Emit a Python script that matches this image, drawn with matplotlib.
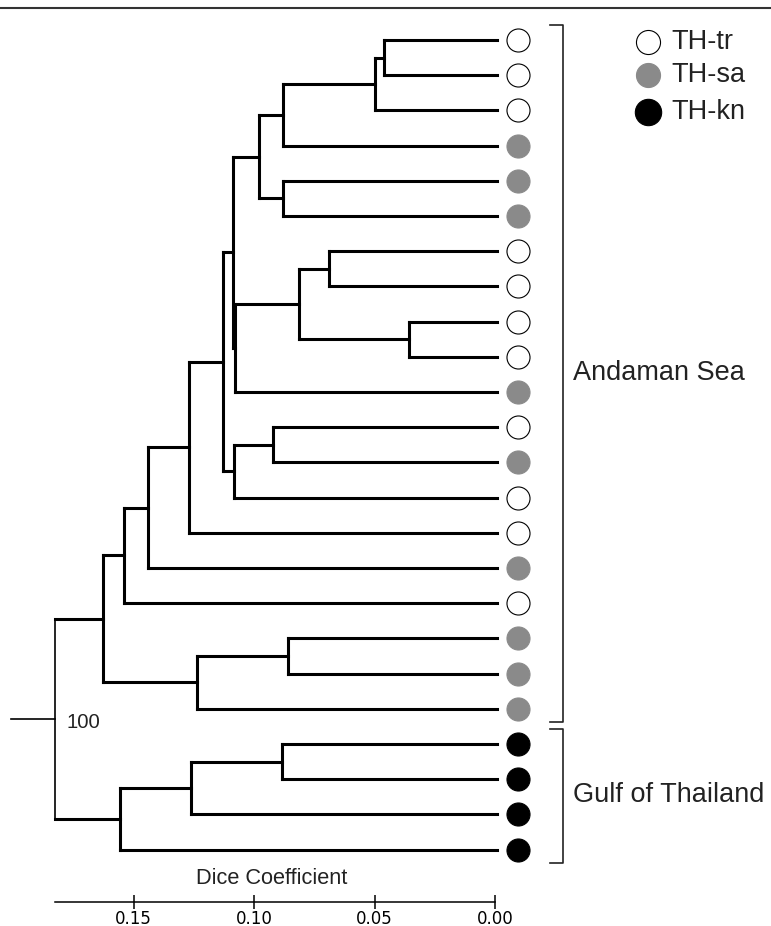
import numpy as np
import matplotlib.pyplot as plt
from matplotlib.lines import Line2D

plt.rcParams['font.family'] = ['Liberation Sans', 'DejaVu Sans']

# population of each leaf, top to bottom
leaf_groups = ['tr', 'tr', 'tr', 'sa', 'sa', 'sa', 'tr', 'tr', 'tr', 'tr',
               'sa', 'tr', 'sa', 'tr', 'tr', 'sa', 'tr', 'sa', 'sa', 'sa',
               'kn', 'kn', 'kn', 'kn']

# linkage, scipy style: node 24+k joins merge_a[k] and merge_b[k] at merge_h[k]
merge_a = [0, 24, 25, 4, 26, 6, 8, 29, 31, 28, 11, 34, 33, 36, 37, 38,
           17, 40, 39, 20, 43, 44, 42]
merge_b = [1, 2, 3, 5, 27, 7, 9, 30, 10, 32, 12, 13, 35, 14, 15, 16,
           18, 19, 41, 21, 22, 23, 45]
merge_h = [0.0461, 0.0498, 0.0880, 0.0880, 0.0979, 0.0689, 0.0357, 0.0813,
           0.1079, 0.1087, 0.0921, 0.1083, 0.1129, 0.1270, 0.1440, 0.1539,
           0.0859, 0.1237, 0.1627, 0.0884, 0.1261, 0.1556, 0.1826]
bootstrap = '100'

regions = ['Andaman Sea', 'Gulf of Thailand']
region_first = [0, 20]
region_last = [19, 23]

legend_labels = ['TH-tr', 'TH-sa', 'TH-kn']
legend_groups = ['tr', 'sa', 'kn']

xticks = [0.00, 0.05, 0.10, 0.15]
xticklabels = ['0.00', '0.05', '0.10', '0.15']

face = {'tr': 'white', 'sa': '#8a8a8a', 'kn': 'black'}
edge = {'tr': 'black', 'sa': '#8a8a8a', 'kn': 'black'}

W, H = 771, 926


# pixel helpers for layout only
def hx(px):
    return (495 - px) / 2410.0


def iy(py):
    return (py - 40) / 35.2


fig = plt.figure(figsize=(W / 100, H / 100), dpi=100)
ax = fig.add_axes([0, 0, 1, 1])
ax.set_xlim(hx(0), hx(W))
ax.set_ylim(iy(H), iy(0))

n = len(leaf_groups)
ypos = list(range(n))
hpos = [0.0] * n
for a, b, h in zip(merge_a, merge_b, merge_h):
    ypos.append((ypos[a] + ypos[b]) / 2)
    hpos.append(h)

lw = 2.2
root = len(ypos) - 1
for k, (a, b, h) in enumerate(zip(merge_a, merge_b, merge_h)):
    node = n + k
    vlw = 1.2 if node == root else lw
    ax.plot([h, h], [ypos[a], ypos[b]], color='black', lw=vlw,
            solid_capstyle='projecting' if node != root else 'butt')
    for c in (a, b):
        x1 = hpos[c] if c >= n else hx(497)
        ax.plot([h, x1], [ypos[c], ypos[c]], color='black', lw=lw,
                solid_capstyle='projecting')

# root stub and bootstrap value
ax.plot([merge_h[-1], hx(11)], [ypos[root], ypos[root]], color='black', lw=1.2)
ax.text(hx(67), ypos[root] + 0.1, bootstrap, fontsize=14.7,
        ha='left', va='center', color='#222222')

# leaf symbols
for i, g in enumerate(leaf_groups):
    ax.scatter(hx(518), i, s=275, c=face[g], edgecolors=edge[g],
               linewidths=0.8, zorder=3)

# region brackets
for name, f, l in zip(regions, region_first, region_last):
    y0 = f - 0.43
    y1 = l + 0.38
    ax.plot([hx(550), hx(563), hx(563), hx(550)], [y0, y0, y1, y1],
            color='#222222', lw=1.2)
    ax.text(hx(573), (f + l) / 2 - 0.05, name, fontsize=19.5,
            ha='left', va='center', color='#222222')

# legend
leg_y = [42, 75, 112]
leg_s = [300, 300, 360]
for lab, g, py, s in zip(legend_labels, legend_groups, leg_y, leg_s):
    ax.scatter(hx(648), iy(py), s=s, c=face[g], edgecolors=edge[g],
               linewidths=0.8, zorder=3)
    ax.text(hx(671), iy(py), lab, fontsize=19.5, ha='left', va='center',
            color='#222222')

# scale axis
for s in ['top', 'left', 'right']:
    ax.spines[s].set_visible(False)
ax.spines['bottom'].set_position(('data', iy(901.7)))
ax.spines['bottom'].set_bounds(0, merge_h[-1])
ax.spines['bottom'].set_linewidth(1.1)
ax.set_xticks(xticks)
ax.set_xticklabels(xticklabels, fontfamily='DejaVu Sans', fontsize=12)
ax.tick_params(axis='x', direction='inout', length=9.4, width=1.1, pad=1)
ax.set_yticks([])
ax.text(hx(272), iy(878), 'Dice Coefficient', fontsize=15.7,
        ha='center', va='center', color='#222222')

# top rule
fig.add_artist(Line2D([0, 1], [1 - 7.5 / H, 1 - 7.5 / H], color='#333333',
                      lw=1.5, transform=fig.transFigure))

fig.savefig('out.png', dpi=100)
